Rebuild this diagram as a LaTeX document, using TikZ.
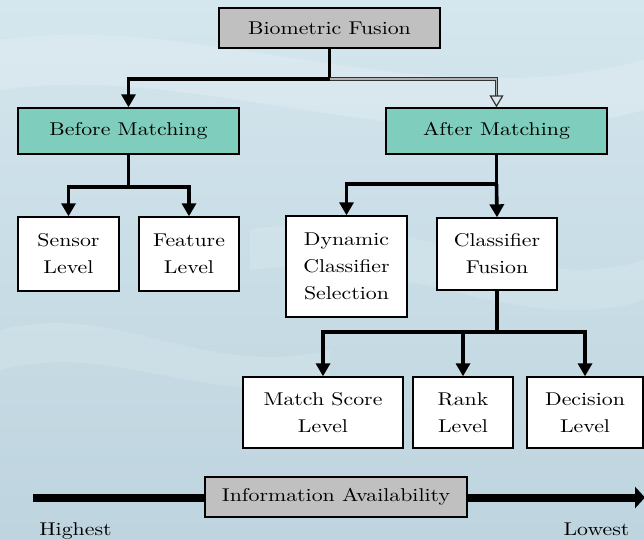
\documentclass[tikz,border=0pt]{standalone}
\usepackage{fontspec}
\setmainfont{lmroman10-regular.otf}[FakeStretch=1.18]
\usetikzlibrary{arrows.meta}
\definecolor{tealbox}{RGB}{127,206,189}
\definecolor{graybox}{RGB}{192,192,192}
\definecolor{bgA}{RGB}{212,230,238}
\definecolor{bgB}{RGB}{190,212,222}
\begin{document}
\begin{tikzpicture}[x=1pt,y=-1pt,
  box/.style={draw=black,line width=1.4pt,inner sep=0pt,align=center,
    font=\fontsize{18.5}{27}\selectfont},
  conn/.style={line width=3.6pt,-{Triangle[length=13pt,width=14pt]}},
  conline/.style={line width=3.6pt},
  lbl/.style={font=\fontsize{18.5}{20}\selectfont,inner sep=0pt,anchor=base}]
% background
\useasboundingbox (0,0) rectangle (644,539);
\shade[top color=bgA,bottom color=bgB] (0,0) rectangle (644,539);
\fill[white,opacity=0.18] (0,40) .. controls (200,10) and (420,120) .. (644,60) -- (644,110) .. controls (420,170) and (200,60) .. (0,90) -- cycle;
\fill[white,opacity=0.12] (250,230) .. controls (400,200) and (520,300) .. (644,260) -- (644,300) .. controls (520,340) and (400,250) .. (250,270) -- cycle;
\fill[white,opacity=0.12] (0,330) .. controls (120,300) and (200,380) .. (330,350) -- (330,380) .. controls (200,410) and (120,340) .. (0,370) -- cycle;
% nodes
\node[box,fill=graybox,minimum width=221pt,minimum height=40pt] (bf) at (329.5,28) {Biometric Fusion};
\node[box,fill=tealbox,minimum width=221pt,minimum height=46pt] (bm) at (128.5,131) {Before Matching};
\node[box,fill=tealbox,minimum width=221pt,minimum height=46pt] (am) at (496.5,131) {After Matching};
\node[box,fill=white,minimum width=101pt,minimum height=74pt] (sl) at (68.5,254) {Sensor\\Level};
\node[box,fill=white,minimum width=100pt,minimum height=74pt] (fl) at (189,254) {Feature\\Level};
\node[box,fill=white,minimum width=121pt,minimum height=101pt] (dcs) at (346.5,266.5) {Dynamic\\Classifier\\Selection};
\node[box,fill=white,minimum width=120pt,minimum height=72pt] (cf) at (497,254) {Classifier\\Fusion};
\node[box,fill=white,minimum width=160pt,minimum height=71pt] (ms) at (323,412.5) {Match Score\\Level};
\node[box,fill=white,minimum width=100pt,minimum height=71pt] (rl) at (463,412.5) {Rank\\Level};
\node[box,fill=white,minimum width=116pt,minimum height=71pt] (dl) at (585,412.5) {Decision\\Level};
% junctions
\coordinate (j1) at (329.5,79);
\coordinate (j2) at (128.5,187);
\coordinate (j3) at (496.5,184);
\coordinate (j4) at (497,332);
% connectors
\draw[conline] (bf.south) -- (j1);
\draw[conn] (j1) -| (bm.north);
\draw[line width=1pt,draw=black!80,double=gray!60,double distance=1.6pt,
  -{Triangle[open,length=12pt,width=14pt,line width=1.2pt]}] (j1) -| (am.north);
\draw[conline] (bm.south) -- (j2);
\draw[conn] (j2) -| (sl.north);
\draw[conn] (j2) -| (fl.north);
\draw[conline] (am.south) -- (j3);
\draw[conn] (j3) -| (dcs.north);
\draw[conn] (j3) -- (cf.north);
\draw[conline] (cf.south) -- (j4);
\draw[conn] (j4) -| (ms.north);
\draw[conn] (j4) -| (rl.north);
\draw[conn] (j4) -| (dl.north);
% information availability bar
\coordinate (hs) at (33,497.5);
\coordinate (le) at (645,497.5);
\draw[line width=8pt,-{Triangle[length=10pt,width=21pt]}] (hs) -- (le);
\node[box,fill=graybox,minimum width=262pt,minimum height=40pt] (ia) at (336,497) {Information Availability};
\node[lbl] (hi) at (75.5,535) {Highest};
\node[lbl] (lo) at (596.5,535) {Lowest};
\end{tikzpicture}
\end{document}
